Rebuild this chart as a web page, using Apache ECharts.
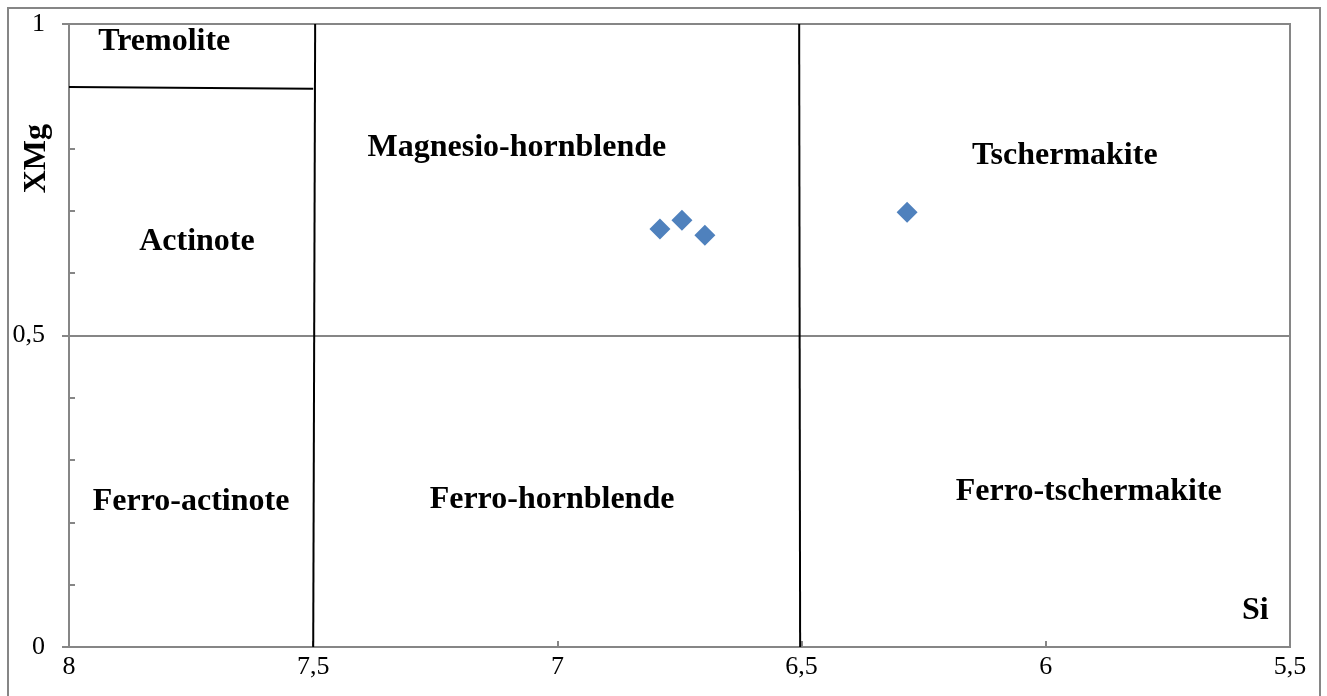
<!DOCTYPE html>
<html>
<head>
<meta charset="utf-8">
<script src="https://cdn.jsdelivr.net/npm/echarts@6/dist/echarts.min.js"></script>
<style>
  html, body { margin: 0; padding: 0; background: #fff; }
  #chart { width: 1327px; height: 696px; }
</style>
</head>
<body>
<div id="chart"></div>
<script>
// Amphibole classification: Si (apfu) vs XMg
const xTicks = [8, 7.5, 7, 6.5, 6, 5.5];
const yTicks = [0, 0.5, 1];

// analysed amphiboles [Si, XMg]
const samples = [
  [6.79, 0.671],
  [6.745, 0.685],
  [6.698, 0.661],
  [6.284, 0.698]
];

// field boundaries
const boundary75 = [[7.5, 0], [7.496, 1]];
const boundary65 = [[6.503, 0], [6.505, 1]];
const tremoliteLine = [[8, 0.899], [7.5, 0.896]];

// field names and where they sit [Si, XMg, name]
const fieldNames = [
  [7.805, 0.977, 'Tremolite'],
  [7.738, 0.655, 'Actinote'],
  [7.083, 0.807, 'Magnesio-hornblende'],
  [5.961, 0.793, 'Tschermakite'],
  [7.750, 0.238, 'Ferro-actinote'],
  [7.011, 0.241, 'Ferro-hornblende'],
  [5.912, 0.254, 'Ferro-tschermakite']
];

const serif = '"Liberation Serif", "Times New Roman", serif';
const axisGray = '#868686';
const comma = v => String(v).replace('.', ',');

const chart = echarts.init(document.getElementById('chart'), null, { renderer: 'canvas' });

const boundaryStyle = { color: '#000', width: 2 };

chart.setOption({
  animation: false,
  backgroundColor: '#fff',
  grid: {
    left: 69, top: 24, width: 1221, height: 623,
    show: true, borderColor: axisGray, borderWidth: 2, backgroundColor: 'transparent'
  },
  graphic: [
    {
      type: 'rect', z: -10,
      shape: { x: 8, y: 8, width: 1312, height: 700 },
      style: { fill: 'none', stroke: axisGray, lineWidth: 2 }
    },
    {
      type: 'text', left: 21, top: 124, rotation: Math.PI / 2,
      style: { text: 'XMg', font: 'bold 32px ' + serif, fill: '#000' }
    },
    {
      type: 'text', left: 1242, top: 595,
      style: { text: 'Si', font: 'bold 32px ' + serif, fill: '#000' }
    }
  ],
  xAxis: {
    type: 'value', inverse: true, min: 5.5, max: 8, interval: 0.5,
    axisLine: { lineStyle: { color: axisGray, width: 2 } },
    axisTick: { show: true, inside: true, length: 6, lineStyle: { color: axisGray, width: 2 } },
    axisLabel: {
      color: '#000', fontFamily: serif, fontSize: 26, margin: 7,
      showMinLabel: true, showMaxLabel: true,
      formatter: comma
    },
    splitLine: { show: false }
  },
  yAxis: [
    {
      type: 'value', min: 0, max: 1, interval: 0.5,
      axisLine: { lineStyle: { color: axisGray, width: 2 } },
      axisTick: { show: true, inside: false, length: 7, lineStyle: { color: axisGray, width: 2 } },
      axisLabel: {
        color: '#000', fontFamily: serif, fontSize: 26, margin: 24,
        formatter: v => (yTicks.includes(v) ? comma(v) : '')
      },
      splitLine: { show: true, lineStyle: { color: axisGray, width: 2 } }
    },
    {
      // minor ticks every 0.1, pointing into the plot
      type: 'value', min: 0, max: 1, interval: 0.1, position: 'left',
      axisLine: { show: false },
      axisTick: { show: true, inside: true, length: 6, lineStyle: { color: axisGray, width: 2 } },
      axisLabel: { show: false },
      splitLine: { show: false }
    }
  ],
  series: [
    {
      type: 'line', data: boundary75, symbol: 'none', lineStyle: boundaryStyle, silent: true
    },
    {
      type: 'line', data: boundary65, symbol: 'none', lineStyle: boundaryStyle, silent: true
    },
    {
      type: 'line', data: tremoliteLine, symbol: 'none', lineStyle: boundaryStyle, silent: true
    },
    {
      type: 'scatter', data: fieldNames, symbolSize: 0, silent: true,
      itemStyle: { opacity: 1 },
      label: {
        show: true, position: 'inside', offset: [0, 3],
        formatter: p => p.data[2],
        fontFamily: serif, fontWeight: 'bold', fontSize: 32, color: '#000'
      }
    },
    {
      type: 'scatter', data: samples, symbol: 'diamond', symbolSize: 21,
      itemStyle: { color: '#4F81BD', opacity: 1 }, z: 5
    }
  ]
});
</script>
</body>
</html>
